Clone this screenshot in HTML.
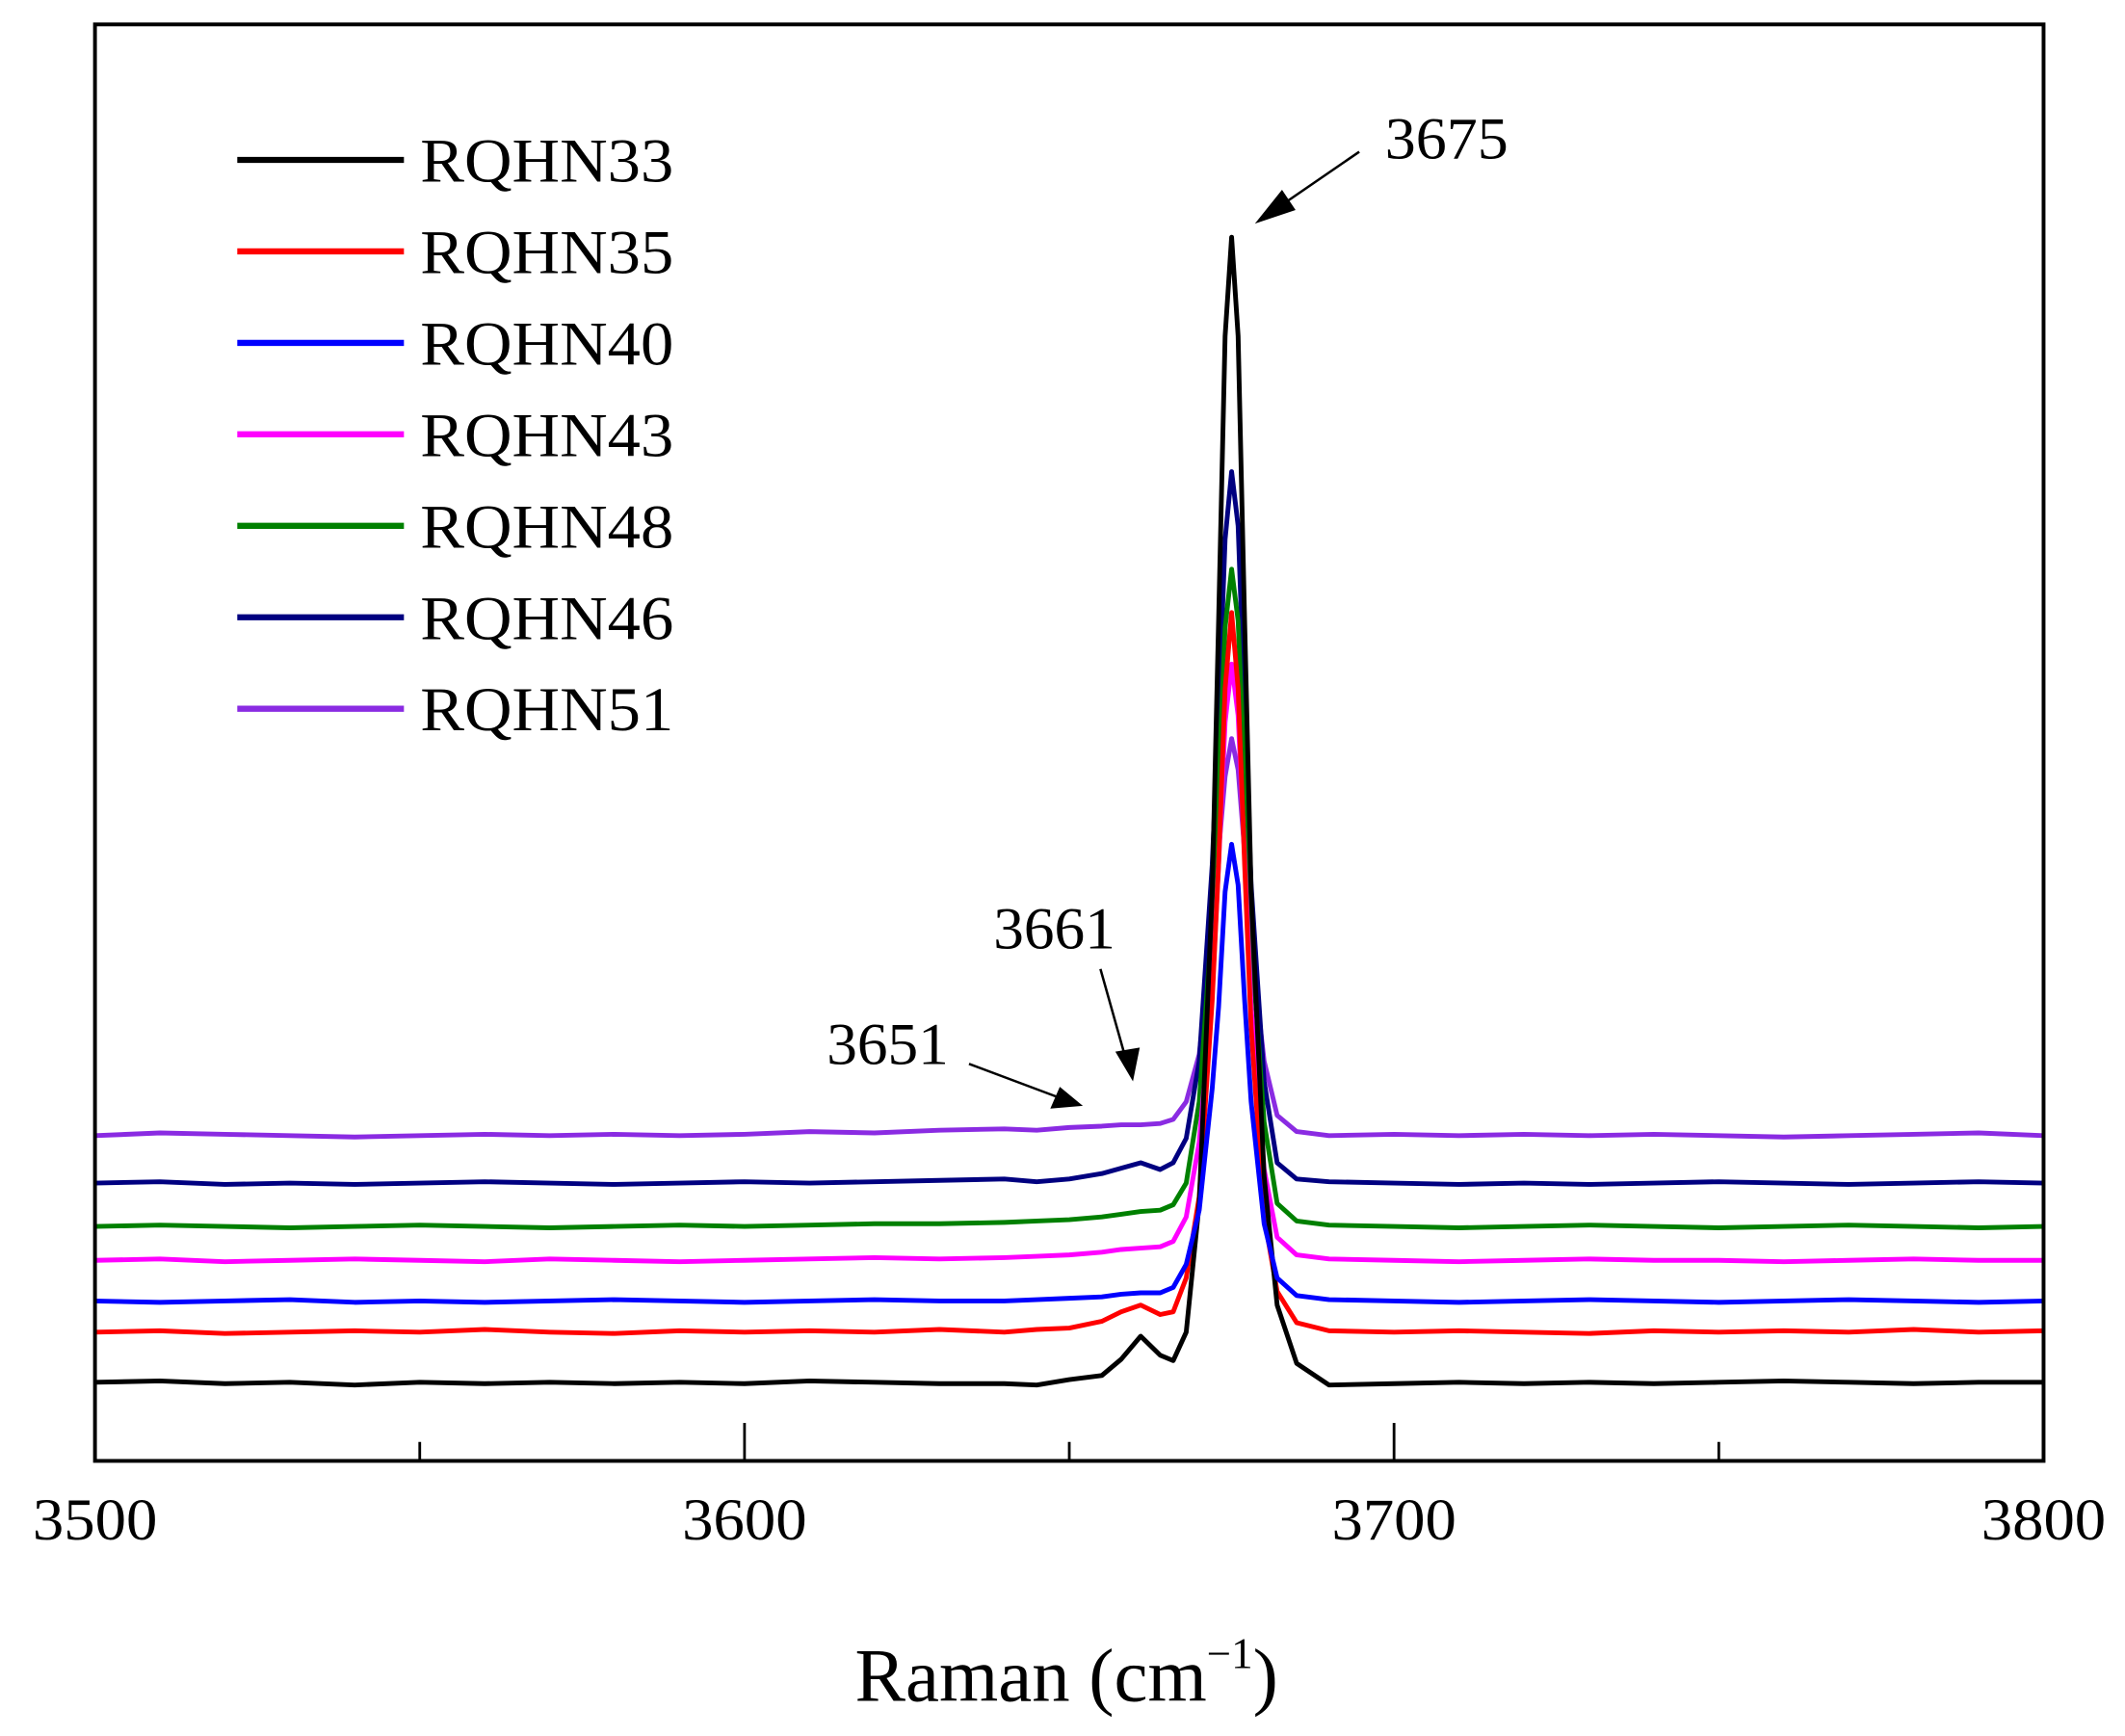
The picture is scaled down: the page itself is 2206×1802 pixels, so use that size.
<!DOCTYPE html>
<html><head><meta charset="utf-8"><style>
html,body{margin:0;padding:0;background:#fff;}
svg{display:block;}
text{font-family:"Liberation Serif",serif;fill:#000;}
</style></head><body>
<svg id="chart" width="2206" height="1802" viewBox="0 0 1568 1281" xmlns="http://www.w3.org/2000/svg">
<g id="plot"></g>
<g id="legend"></g>
<rect x="70" y="18" width="1438" height="1060" fill="none" stroke="#000" stroke-width="2.8"/>
<g id="xticks"></g>
<text x="787" y="1255" font-size="56" text-anchor="middle">Raman (cm<tspan font-size="32" dy="-24">−1</tspan><tspan dy="24">)</tspan></text>
<g>
<text x="1022" y="117" font-size="44" textLength="91" lengthAdjust="spacingAndGlyphs">3675</text>
<line x1="1003" y1="112" x2="936" y2="158" stroke="#000" stroke-width="1.8"/>
<polygon points="926,165 946,140 956,155" fill="#000"/>
</g>
<g>
<text x="733" y="700" font-size="44" textLength="90" lengthAdjust="spacingAndGlyphs">3661</text>
<line x1="812" y1="715" x2="832" y2="786" stroke="#000" stroke-width="1.8"/>
<polygon points="836,798 823,776 841,773" fill="#000"/>
</g>
<g>
<text x="610" y="785" font-size="44" textLength="90" lengthAdjust="spacingAndGlyphs">3651</text>
<line x1="715" y1="785" x2="787" y2="812" stroke="#000" stroke-width="1.8"/>
<polygon points="799,816 775,818 782,802" fill="#000"/>
</g>
</svg>
<script>
const xs=[3500,3510,3520,3530,3540,3550,3560,3570,3580,3590,3600,3610,3620,3630,3640,3645,3650,3655,3658,3661,3664,3666,3668,3670,3672,3673,3674,3675,3676,3677,3678,3680,3682,3685,3690,3700,3710,3720,3730,3740,3750,3760,3770,3780,3790,3800];
const rqhn33=[58,59,57,58,56,58,57,58,57,58,57,59,58,57,57,56,60,63,75,92,78,74,95,190,420,620,830,903,830,620,420,210,115,72,56,57,58,57,58,57,58,59,58,57,58,58];
const rqhn35=[95,96,94,95,96,95,97,95,94,96,95,96,95,97,95,97,98,103,110,115,108,110,135,195,340,440,570,626,570,440,320,180,125,102,96,95,96,95,94,96,95,96,95,97,95,96];
const rqhn40=[118,117,118,119,117,118,117,118,119,118,117,118,119,118,118,119,120,121,123,124,124,128,145,185,275,335,420,455,425,340,265,175,135,122,119,118,117,118,119,118,117,118,119,118,117,118];
const rqhn43=[148,149,147,148,149,148,147,149,148,147,148,149,150,149,150,151,152,154,156,157,158,162,180,235,345,440,545,588,550,445,335,215,165,152,149,148,147,148,149,148,148,147,148,149,148,148];
const rqhn48=[173,174,173,172,173,174,173,172,173,174,173,174,175,175,176,177,178,180,182,184,185,189,205,265,400,500,615,658,620,505,385,250,190,177,174,173,172,173,174,173,172,173,174,173,172,173];
const rqhn46=[205,206,204,205,204,205,206,205,204,205,206,205,206,207,208,206,208,212,216,220,215,220,238,295,440,550,680,730,690,555,425,280,220,208,206,205,204,205,204,205,206,205,204,205,206,205];
const rqhn51=[240,242,241,240,239,240,241,240,241,240,241,243,242,244,245,244,246,247,248,248,249,252,265,300,390,450,505,533,510,450,380,295,255,243,240,241,240,241,240,241,240,239,240,241,242,240];
const seriesNames=["RQHN33","RQHN35","RQHN40","RQHN43","RQHN48","RQHN46","RQHN51"];
const seriesData=[rqhn33,rqhn35,rqhn40,rqhn43,rqhn48,rqhn46,rqhn51];
const seriesColors=["#000000","#ff0000","#0000ff","#ff00ff","#008000","#000080","#8a2be2"];
const xTickValues=[3500,3600,3700,3800];
const xMinorValues=[3550,3650,3750];

const NS="http://www.w3.org/2000/svg";
const X0=70,X1=1508,Y0=1078,Y1=18,XMIN=3500,XMAX=3800,YMIN=0,YMAX=1060;
function sx(v){return X0+(v-XMIN)/(XMAX-XMIN)*(X1-X0);}
function sy(v){return Y0-(v-YMIN)/(YMAX-YMIN)*(Y0-Y1);}
const plot=document.getElementById('plot');
const legend=document.getElementById('legend');
const drawOrder=[6,5,4,3,1,0,2];
drawOrder.forEach(function(i){
  const p=document.createElementNS(NS,'path');
  let d='';
  seriesData[i].forEach(function(v,j){d+=(j?'L':'M')+sx(xs[j]).toFixed(1)+','+sy(v).toFixed(1);});
  p.setAttribute('d',d);
  p.setAttribute('fill','none');
  p.setAttribute('stroke',seriesColors[i]);
  p.setAttribute('stroke-width','3.5');
  p.setAttribute('stroke-linejoin','round');
  
  
  plot.appendChild(p);
});
seriesNames.forEach(function(n,i){
  const y=118+i*67.5;
  const g=document.createElementNS(NS,'g');
  
  
  const l=document.createElementNS(NS,'line');
  l.setAttribute('x1',175);l.setAttribute('x2',298);l.setAttribute('y1',y);l.setAttribute('y2',y);
  l.setAttribute('stroke',seriesColors[i]);l.setAttribute('stroke-width','4.5');
  const t=document.createElementNS(NS,'text');
  t.setAttribute('x',310);t.setAttribute('y',y+16);t.setAttribute('font-size','46');
  t.setAttribute('textLength','187');t.setAttribute('lengthAdjust','spacingAndGlyphs');
  t.textContent=n;
  g.appendChild(l);g.appendChild(t);legend.appendChild(g);
});
const xt=document.getElementById('xticks');
xTickValues.forEach(function(v){
  const l=document.createElementNS(NS,'line');
  l.setAttribute('x1',sx(v));l.setAttribute('x2',sx(v));l.setAttribute('y1',Y0);l.setAttribute('y2',Y0-28);
  l.setAttribute('stroke','#000');l.setAttribute('stroke-width','2');
  
  
  xt.appendChild(l);
  const t=document.createElementNS(NS,'text');
  t.setAttribute('x',sx(v)-46);t.setAttribute('y',1136);t.setAttribute('font-size','44');
  t.setAttribute('textLength','92');t.setAttribute('lengthAdjust','spacingAndGlyphs');
  
  
  t.textContent=v;
  xt.appendChild(t);
});
xMinorValues.forEach(function(v){
  const l=document.createElementNS(NS,'line');
  l.setAttribute('x1',sx(v));l.setAttribute('x2',sx(v));l.setAttribute('y1',Y0);l.setAttribute('y2',Y0-14);
  l.setAttribute('stroke','#000');l.setAttribute('stroke-width','2');
  
  
  xt.appendChild(l);
});
</script>
</body></html>
